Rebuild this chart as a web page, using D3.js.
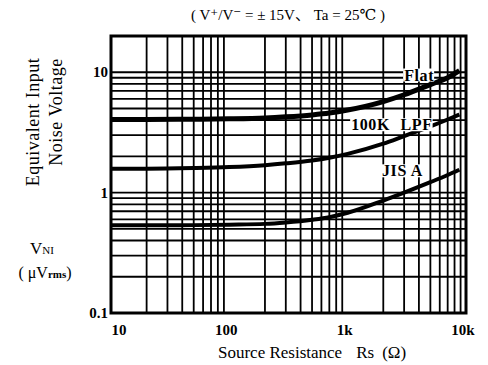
<!DOCTYPE html>
<html>
<head>
<meta charset="utf-8">
<script src="https://cdn.jsdelivr.net/npm/d3@7/dist/d3.min.js"></script>
<style>
  body { margin: 0; background: #fff; }
  svg text { font-family: "Liberation Serif", "DejaVu Serif", "Noto Sans CJK JP", serif; fill: #000; }
</style>
</head>
<body>
<div id="vis"></div>
<script>
// source resistance values (ohm)
var resistances = [10, 20, 50, 100, 200, 300, 500, 700, 1000, 2000, 3000, 5000, 7000, 8800];

// equivalent input noise voltage (uV rms) per filter
var flatValues = [4.05, 4.05, 4.07, 4.1, 4.17, 4.26, 4.42, 4.58, 4.85, 5.7, 6.5, 7.9, 9.0, 10.3];
var lpfValues  = [1.58, 1.58, 1.6, 1.63, 1.69, 1.75, 1.85, 1.95, 2.1, 2.55, 2.95, 3.55, 4.05, 4.45];
var jisValues  = [0.535, 0.535, 0.537, 0.542, 0.55, 0.565, 0.595, 0.625, 0.68, 0.86, 1.0, 1.22, 1.4, 1.55];

var seriesNames = ["Flat", "100K LPF", "JIS A"];

// tick labels
var xTicks = [10, 100, 1000, 10000];
var xTickLabels = ["10", "100", "1k", "10k"];
var yTicks = [0.1, 1, 10];
var yTickLabels = ["0.1", "1", "10"];

var width = 488;
var height = 365;
var margin = {top: 36, left: 111, bottom: 52, right: 22};

var svg = d3.select("#vis").append("svg")
  .attr("width", width)
  .attr("height", height);

var x = d3.scaleLog()
  .domain([10, 10000])
  .range([margin.left, width - margin.right]);

var y = d3.scaleLog()
  .domain([0.1, 20])
  .range([height - margin.bottom, margin.top]);

var g = svg.append("g");

// vertical grid: 2..9 in each decade
var xGrid = [];
for (var d = 10; d < 10000; d *= 10) {
  for (var k = 2; k <= 9; k++) xGrid.push(d * k);
}
g.selectAll(".vgrid").data(xGrid)
  .enter().append("line")
  .attr("class", "vgrid")
  .attr("x1", function(d) { return x(d); })
  .attr("x2", function(d) { return x(d); })
  .attr("y1", y(20))
  .attr("y2", y(0.1))
  .attr("stroke", "#000")
  .attr("stroke-width", 1.8);

// horizontal grid only from 0.1 up to 10
var yGrid = [];
for (var e = 0.1; e < 5; e *= 10) {
  for (var j = 2; j <= 10; j++) yGrid.push(e * j);
}
g.selectAll(".hgrid").data(yGrid)
  .enter().append("line")
  .attr("class", "hgrid")
  .attr("x1", x(10))
  .attr("x2", x(10000))
  .attr("y1", function(d) { return y(d); })
  .attr("y2", function(d) { return y(d); })
  .attr("stroke", "#000")
  .attr("stroke-width", 1.8);

// frame
g.append("rect")
  .attr("x", x(10))
  .attr("y", y(20))
  .attr("width", x(10000) - x(10))
  .attr("height", y(0.1) - y(20))
  .attr("fill", "none")
  .attr("stroke", "#000")
  .attr("stroke-width", 3);

// curves
var line = d3.line()
  .x(function(d) { return x(d[0]); })
  .y(function(d) { return y(d[1]); })
  .curve(d3.curveMonotoneX);

var allSeries = [flatValues, lpfValues, jisValues];
var widths = [5, 4, 4];
allSeries.forEach(function(vals, i) {
  var pts = resistances.map(function(r, n) { return [r, vals[n]]; });
  g.append("path")
    .datum(pts)
    .attr("d", line)
    .attr("fill", "none")
    .attr("stroke", "#000")
    .attr("stroke-width", widths[i]);
});

// curve labels with white boxes over the grid
var labelAt = [[3000, 9.5], [1070, 3.67], [1950, 1.52]];
seriesNames.forEach(function(name, i) {
  var t = g.append("text")
    .attr("x", x(labelAt[i][0]))
    .attr("y", y(labelAt[i][1]))
    .attr("dy", "0.35em")
    .attr("font-size", 16)
    .attr("font-weight", "bold")
    .attr("letter-spacing", 0.6)
    .attr("word-spacing", i === 1 ? 6 : 0)
    .text(name);
  var bb = t.node().getBBox();
  g.insert("rect", function() { return t.node(); })
    .attr("x", bb.x - 1)
    .attr("y", bb.y + 2)
    .attr("width", bb.width + 1)
    .attr("height", bb.height - 4)
    .attr("fill", "#fff");
});

// tick labels
svg.selectAll(".xlab").data(xTicks)
  .enter().append("text")
  .attr("x", function(d) { return x(d) + (d === 10 ? 8 : -3); })
  .attr("y", height - margin.bottom + 22)
  .attr("text-anchor", "middle")
  .attr("font-size", 15)
  .attr("font-weight", "bold")
  .text(function(d, i) { return xTickLabels[i]; });

svg.selectAll(".ylab").data(yTicks)
  .enter().append("text")
  .attr("x", x(10) - 3)
  .attr("y", function(d) { return y(d) + 5; })
  .attr("text-anchor", "end")
  .attr("font-size", 15)
  .attr("font-weight", "bold")
  .text(function(d, i) { return yTickLabels[i]; });

// title
svg.append("text")
  .attr("x", 288)
  .attr("y", 20)
  .attr("text-anchor", "middle")
  .attr("font-size", 15)
  .text("( V\u207A/V\u207B = \u00B1 15V\u3001 Ta = 25\u2103 )");

// axis titles
var xt = svg.append("text")
  .attr("x", 218)
  .attr("y", 358)
  .attr("font-size", 17);
xt.append("tspan").text("Source Resistance");
xt.append("tspan").attr("dx", 14).text("Rs");
xt.append("tspan").attr("dx", 8).text("(\u03A9)");

svg.append("text")
  .attr("transform", "translate(39,122) rotate(-90)")
  .attr("text-anchor", "middle")
  .attr("font-size", 18)
  .attr("letter-spacing", 0.5)
  .text("Equivalent Input");

svg.append("text")
  .attr("transform", "translate(62,112) rotate(-90)")
  .attr("text-anchor", "middle")
  .attr("font-size", 18)
  .attr("letter-spacing", 0.5)
  .text("Noise Voltage");

var vni = svg.append("text")
  .attr("x", 42)
  .attr("y", 254)
  .attr("text-anchor", "middle")
  .attr("font-size", 17);
vni.append("tspan").text("V");
vni.append("tspan").attr("font-size", 11).text("NI");

var unit = svg.append("text")
  .attr("x", 45)
  .attr("y", 278)
  .attr("text-anchor", "middle")
  .attr("font-size", 16);
unit.append("tspan").text("( \u03BCV");
unit.append("tspan").attr("font-size", 11).attr("font-weight", "bold").text("rms");
unit.append("tspan").text(")");
</script>
</body>
</html>
